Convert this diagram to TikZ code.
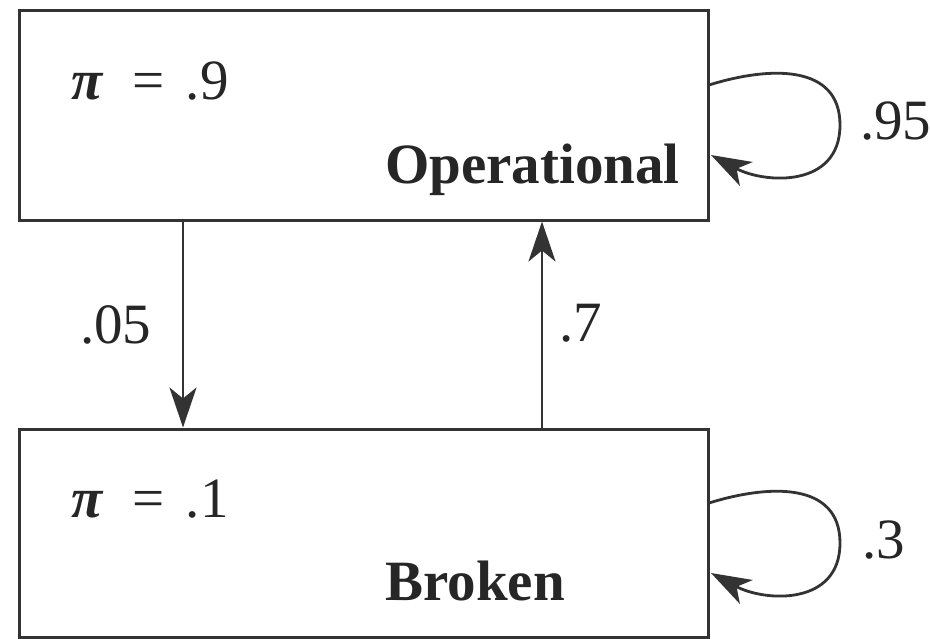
\documentclass[tikz,border=0pt]{standalone}
\usepackage{fontspec}
\setmainfont{Liberation Serif}
\usetikzlibrary{arrows.meta}

\begin{document}
\begin{tikzpicture}[x=1pt,y=1pt,
  state/.style={draw=black!80, line width=3pt, rectangle, minimum width=689pt, inner sep=0pt},
  arr/.style={color=black!80, line width=2.8pt, -{Stealth[length=40pt,width=27pt,inset=11pt]}},
  lbl/.style={inner sep=0pt, anchor=base west, text=black!85, font=\fontsize{57}{68}\selectfont}
]
\useasboundingbox (0,0) rectangle (930,-638);

% Define the two states
\node[state, minimum height=210pt] (oper) at (363.5,-115) {};
\node[state, minimum height=208pt] (broken) at (363.5,-533) {};

% Texts inside the states
\node[lbl] (pi1) at (71,-99) {\textbf{\textit{π}}\hspace{0.5em}=\hspace{0.38em}.9};
\node[lbl, anchor=base east] (name1) at (680,-183) {\textbf{Operational}};
\node[lbl] (pi2) at (71,-517) {\textbf{\textit{π}}\hspace{0.5em}=\hspace{0.38em}.1};
\node[lbl] (name2) at (385,-600) {\textbf{Broken}};

% Transitions between the states
\coordinate (dn) at (183,0);
\coordinate (up) at (542,0);
\draw[arr] (oper.south -| dn) -- (broken.north -| dn);
\draw[arr] (broken.north -| up) -- (oper.south -| up);
\node[lbl] (p05) at (80,-343) {.05};
\node[lbl] (p7) at (559,-341) {.7};

% Self loops
\coordinate (o1) at (709,-85);
\coordinate (o2) at (711,-155);
\draw[arr] (o1) .. controls (770,-66) and (840,-64) .. (840,-125)
  .. controls (840,-188) and (765,-184) .. (o2);
\node[lbl] (p95) at (860,-139) {.95};

\coordinate (b1) at (709,-503);
\coordinate (b2) at (711,-573);
\draw[arr] (b1) .. controls (770,-484) and (840,-482) .. (840,-543)
  .. controls (840,-606) and (765,-602) .. (b2);
\node[lbl] (p3) at (862,-558) {.3};

\end{tikzpicture}
\end{document}
